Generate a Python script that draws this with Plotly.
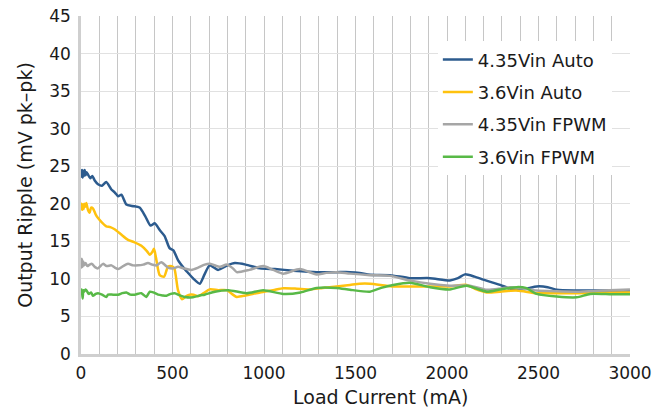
import plotly.graph_objects as go

# ---- data ----
blue_x = [0,3,6,9,12,16,20,25,30,38,50,62,75,93,115,138,166,185,203,221,248,280,320,350,380,403,430,457,484,505,530,560,585,615,649,675,703,749,800,841,900,978,1060,1160,1287,1396,1470,1523,1579,1688,1797,1907,2016,2060,2098,2150,2199,2250,2290,2344,2399,2450,2490,2550,2600,2700,2800,2900,3000]
blue_y = [24.6,23.6,24.5,23.5,24.4,23.7,24.5,23.8,24.2,23.9,23.4,23.7,23.1,22.6,22.4,22.9,21.9,21.5,21.0,21.2,19.9,19.7,19.5,18.4,17.1,17.4,16.5,15.7,14.1,13.8,12.5,11.5,10.8,10.0,9.35,10.6,11.8,11.2,11.8,12.1,11.9,11.4,11.3,11.1,10.9,10.9,10.9,10.8,10.55,10.5,10.1,10.1,9.8,10.1,10.6,10.3,9.9,9.5,9.2,8.7,8.5,8.8,9.0,8.9,8.55,8.45,8.45,8.45,8.45]

yellow_x = [0,3,6,10,14,18,24,29,38,47,55,65,80,93,115,138,160,184,220,257,290,330,360,376,390,399,410,430,454,476,495,510,530,552,575,594,615,640,670,703,750,796,830,851,900,978,1050,1105,1180,1251,1320,1396,1470,1523,1579,1700,1797,1907,2016,2107,2160,2217,2290,2380,2490,2600,2709,2850,3000]
yellow_y = [19.5,20.0,19.2,19.9,19.3,20.0,19.6,20.1,19.2,18.8,19.5,19.4,18.6,18.1,17.5,17.0,16.9,16.6,15.9,15.2,14.9,14.4,13.7,13.2,13.6,14.0,12.8,10.5,10.3,11.65,11.7,11.4,8.5,7.3,7.7,7.9,7.9,7.7,8.1,8.6,8.5,8.5,7.9,7.6,7.8,8.2,8.5,8.75,8.7,8.6,8.8,9.0,9.2,9.35,9.35,9.0,9.0,9.0,9.0,9.2,8.6,8.2,8.3,8.45,8.1,8.1,8.1,8.15,8.2]

gray_x = [0,3,6,9,12,18,25,35,47,60,75,93,120,140,166,185,203,230,257,285,312,340,366,390,412,439,476,505,530,560,603,640,676,705,760,796,830,851,920,996,1050,1105,1196,1287,1340,1396,1470,1579,1688,1797,1907,2016,2125,2217,2290,2344,2420,2490,2600,2709,2850,3000]
gray_y = [12.8,11.5,12.6,11.6,12.3,11.8,12.1,11.7,11.9,12.0,11.6,11.4,12.0,11.7,11.8,11.5,11.3,11.7,12.0,11.8,11.8,11.9,12.1,11.9,11.8,12.2,11.5,11.4,11.6,11.4,11.2,11.5,11.9,12.0,11.6,11.9,11.4,10.9,11.2,11.7,11.2,10.7,11.3,10.6,10.8,10.9,10.7,10.5,10.4,9.8,9.35,9.1,9.1,8.55,8.7,8.9,8.7,8.45,8.35,8.3,8.45,8.6]

green_x = [0,4,9,13,18,25,32,42,55,65,80,93,115,138,148,175,203,225,248,270,294,330,357,376,395,421,445,467,490,512,540,567,612,650,676,731,805,905,996,1105,1200,1287,1396,1470,1579,1640,1706,1797,1907,2016,2107,2217,2290,2380,2430,2490,2600,2709,2782,2900,3000]
green_y = [8.3,8.6,7.4,8.5,8.3,8.6,8.4,8.0,8.2,7.75,8.0,8.1,7.9,7.6,7.9,7.9,7.9,8.1,8.2,7.9,7.9,8.1,7.6,8.3,8.2,7.9,7.8,7.75,8.0,8.1,7.8,7.6,7.55,7.8,7.9,8.3,8.5,8.1,8.5,8.0,8.2,8.8,8.8,8.55,8.3,8.8,9.2,9.5,8.9,8.6,9.1,8.3,8.6,8.9,8.8,8.0,7.65,7.55,8.0,7.95,7.95]

series = [
    ("4.35Vin Auto", blue_x, blue_y, "#2c5b8e"),
    ("3.6Vin Auto", yellow_x, yellow_y, "#ffc20e"),
    ("4.35Vin FPWM", gray_x, gray_y, "#a6a6a6"),
    ("3.6Vin FPWM", green_x, green_y, "#58b947"),
]

x_ticks = [0, 500, 1000, 1500, 2000, 2500, 3000]
y_ticks = [0, 5, 10, 15, 20, 25, 30, 35, 40, 45]
x_title = "Load Current (mA)"
y_title = "Output Ripple (mV pk–pk)"

FONT = "DejaVu Sans, Liberation Sans, Arial, sans-serif"

fig = go.Figure()
for i, (name, xs, ys, col) in enumerate(series):
    fig.add_trace(go.Scatter(x=xs, y=ys, name=name, mode="lines", legendgroup=f"g{i}",
                             line=dict(color=col, width=2.5, shape="spline", smoothing=0.6)))

fig.update_layout(
    width=666, height=414,
    paper_bgcolor="white", plot_bgcolor="white",
    margin=dict(l=81, r=36, t=16, b=60),
    font=dict(family=FONT, size=17, color="#1a1a1a"),
    showlegend=True,
    legend=dict(x=0.65, y=0.925, xanchor="left", yanchor="top",
                bgcolor="white", borderwidth=0, font=dict(size=18),
                traceorder="grouped", tracegroupgap=6),
)
fig.add_annotation(text=x_title, xref="paper", yref="paper", x=0.546, y=-0.128,
                   xanchor="center", yanchor="middle", showarrow=False,
                   font=dict(size=19))
fig.update_xaxes(
    range=[0, 3000], tickvals=x_ticks, ticktext=[str(v) for v in x_ticks],
    showgrid=True, gridcolor="#c6c6c6", gridwidth=1,
    minor=dict(dtick=100, tick0=0, showgrid=True, gridcolor="#c6c6c6", gridwidth=1),
    showline=True, linecolor="#cfcfcf", linewidth=2.5,
    zeroline=False, ticks="", ticklabelstandoff=2, automargin=False,
    ticklabeloverflow="allow", tickfont=dict(size=17),
)
fig.update_yaxes(
    range=[0, 45], tickvals=y_ticks, ticktext=[str(v) for v in y_ticks],
    showgrid=True, gridcolor="#e1e1e1", gridwidth=1,
    showline=True, linecolor="#cfcfcf", linewidth=2.5,
    zeroline=False, ticks="", ticklabelstandoff=4, automargin=False,
    ticklabeloverflow="allow",
    title=dict(text=y_title, font=dict(size=19), standoff=12),
    tickfont=dict(size=17),
)

fig.write_html("out.html", config={"displayModeBar": False},
               post_script="document.body.style.margin='0';document.body.style.overflow='hidden';")
